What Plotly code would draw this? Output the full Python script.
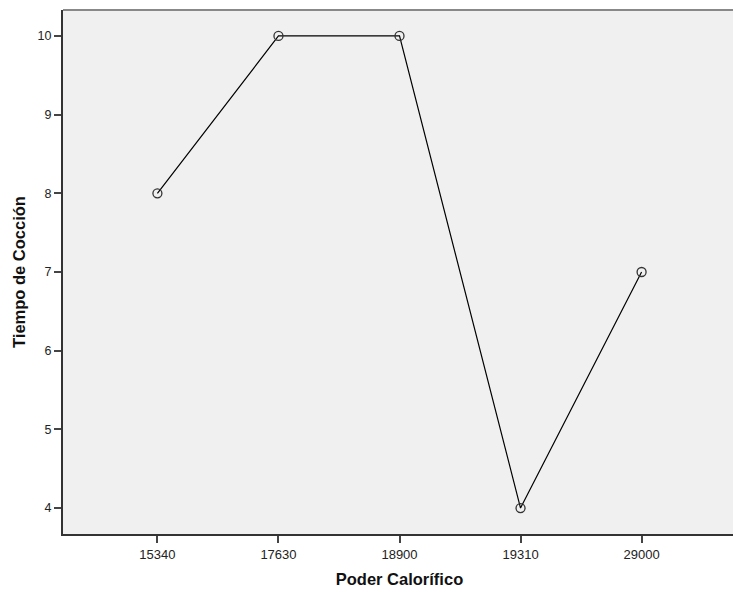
import plotly.graph_objects as go

categories = ["15340", "17630", "18900", "19310", "29000"]
tiempo = [8, 10, 10, 4, 7]
y_ticks = [4, 5, 6, 7, 8, 9, 10]

title_font = dict(size=16.5, color="#111111", family="Liberation Sans, Arial, sans-serif", weight="bold")

fig = go.Figure()
fig.add_trace(go.Scatter(
    x=categories, y=tiempo, mode="lines+markers",
    line=dict(color="#000000", width=1.2),
    marker=dict(symbol="circle-open", size=9, color="#333333", line=dict(width=1.3)),
    showlegend=False,
))

fig.update_layout(
    width=733, height=585,
    margin=dict(l=55, r=5, t=2, b=59),
    paper_bgcolor="white", plot_bgcolor="#f0f0f0",
    font=dict(family="Liberation Sans, Arial, sans-serif", color="#222222"),
    xaxis=dict(
        type="category", range=[-0.78, 4.78], automargin=False,
        showgrid=False, zeroline=False,
        showline=True, linecolor="#333333", linewidth=2,
        ticks="outside", ticklen=7, tickwidth=1.5, tickcolor="#444444",
        tickfont=dict(size=13, color="#222222"),
        title=dict(text="Poder Calorífico", font=title_font, standoff=13),
    ),
    yaxis=dict(
        range=[3.67, 10.33], tickvals=y_ticks, automargin=False,
        showgrid=False, zeroline=False,
        showline=True, linecolor="#333333", linewidth=2,
        ticks="outside", ticklen=7, tickwidth=1.5, tickcolor="#444444",
        tickfont=dict(size=12.5, color="#222222"),
        title=dict(text="Tiempo de Cocción", font=title_font, standoff=8),
    ),
    shapes=[
        dict(type="line", xref="paper", yref="paper", x0=0, x1=1, y0=1, y1=1, line=dict(color="#888888", width=2)),
        dict(type="line", xref="paper", yref="paper", x0=1, x1=1, y0=0, y1=1, line=dict(color="#888888", width=2)),
    ],
)

fig.write_html("out.html")
